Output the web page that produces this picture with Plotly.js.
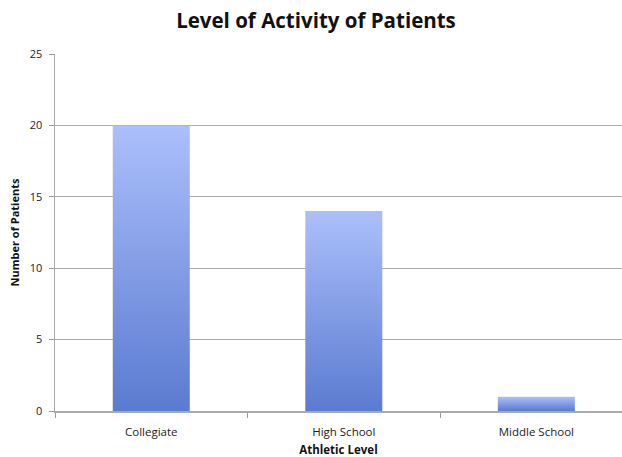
<!DOCTYPE html>
<html>
<head>
<meta charset="utf-8">
<script src="https://cdn.plot.ly/plotly-3.0.1.min.js"></script>
<style>html,body{margin:0;padding:0;overflow:hidden;background:#fff}</style>
</head>
<body>
<div id="chart" style="width:622px;height:457px"></div>
<script>
const categories = ["Collegiate", "High School", "Middle School"];
const patients = [20, 14, 1];
const yTicks = [0, 5, 10, 15, 20, 25];

const font = "Open Sans, Lato, sans-serif";
const trace = {
  type: "bar",
  x: categories,
  y: patients,
  width: 0.4,
  marker: {color: "#7f9ce6", line: {width: 0}},
  hoverinfo: "none"
};
const layout = {
  width: 622, height: 457,
  margin: {l: 55, r: 0, t: 54, b: 46},
  paper_bgcolor: "#fff", plot_bgcolor: "#fff",
  showlegend: false,
  title: {text: "<b>Level of Activity of Patients</b>", font: {family: font, size: 20.5, color: "#111"}, x: 0.508, xanchor: "center", y: 0.955, yanchor: "middle"},
  xaxis: {
    type: "category", range: [-0.5, 2.445], tickson: "boundaries",
    ticks: "outside", ticklen: 5, tickcolor: "#999", tickwidth: 1,
    showline: true, linecolor: "#aaa", linewidth: 1.5,
    showgrid: false, zeroline: false, ticklabelstandoff: 10,
    tickfont: {family: font, size: 11.5, color: "#222"},
    title: {text: "<b>Athletic Level</b>", font: {family: font, size: 11.5, color: "#111"}, standoff: 8}
  },
  yaxis: {
    range: [0, 25], tickvals: yTicks, ticktext: yTicks.map(String),
    ticks: "outside", ticklen: 5, tickcolor: "#999",
    showline: true, linecolor: "#aaa", linewidth: 1.5,
    showgrid: true, gridcolor: "#ababab", gridwidth: 1.3, zeroline: false,
    ticklabelstandoff: 4,
    tickfont: {family: font, size: 11, color: "#222"},
    title: {text: "<b>Number of Patients</b>", font: {family: font, size: 11, color: "#111"}, standoff: 8}
  },
  bargap: 0.6
};

function applyGradient(gd) {
  const svg = gd.querySelector("svg.main-svg");
  if (!svg) return;
  let defs = svg.querySelector("defs");
  if (!defs) { defs = document.createElementNS("http://www.w3.org/2000/svg", "defs"); svg.insertBefore(defs, svg.firstChild); }
  if (!defs.querySelector("#barGrad")) {
    const ns = "http://www.w3.org/2000/svg";
    const g = document.createElementNS(ns, "linearGradient");
    g.setAttribute("id", "barGrad");
    g.setAttribute("x1", "0"); g.setAttribute("y1", "0");
    g.setAttribute("x2", "0"); g.setAttribute("y2", "1");
    const s1 = document.createElementNS(ns, "stop"); s1.setAttribute("offset", "0"); s1.setAttribute("stop-color", "#abbffb");
    const s2 = document.createElementNS(ns, "stop"); s2.setAttribute("offset", "1"); s2.setAttribute("stop-color", "#5b7bd0");
    g.appendChild(s1); g.appendChild(s2); defs.appendChild(g);
  }
  gd.querySelectorAll(".barlayer .point path").forEach(p => { p.style.fill = "url(#barGrad)"; });
}

Plotly.newPlot("chart", [trace], layout, {displayModeBar: false, staticPlot: true}).then(gd => {
  applyGradient(gd);
  gd.on("plotly_afterplot", () => applyGradient(gd));
});
</script>
</body>
</html>
